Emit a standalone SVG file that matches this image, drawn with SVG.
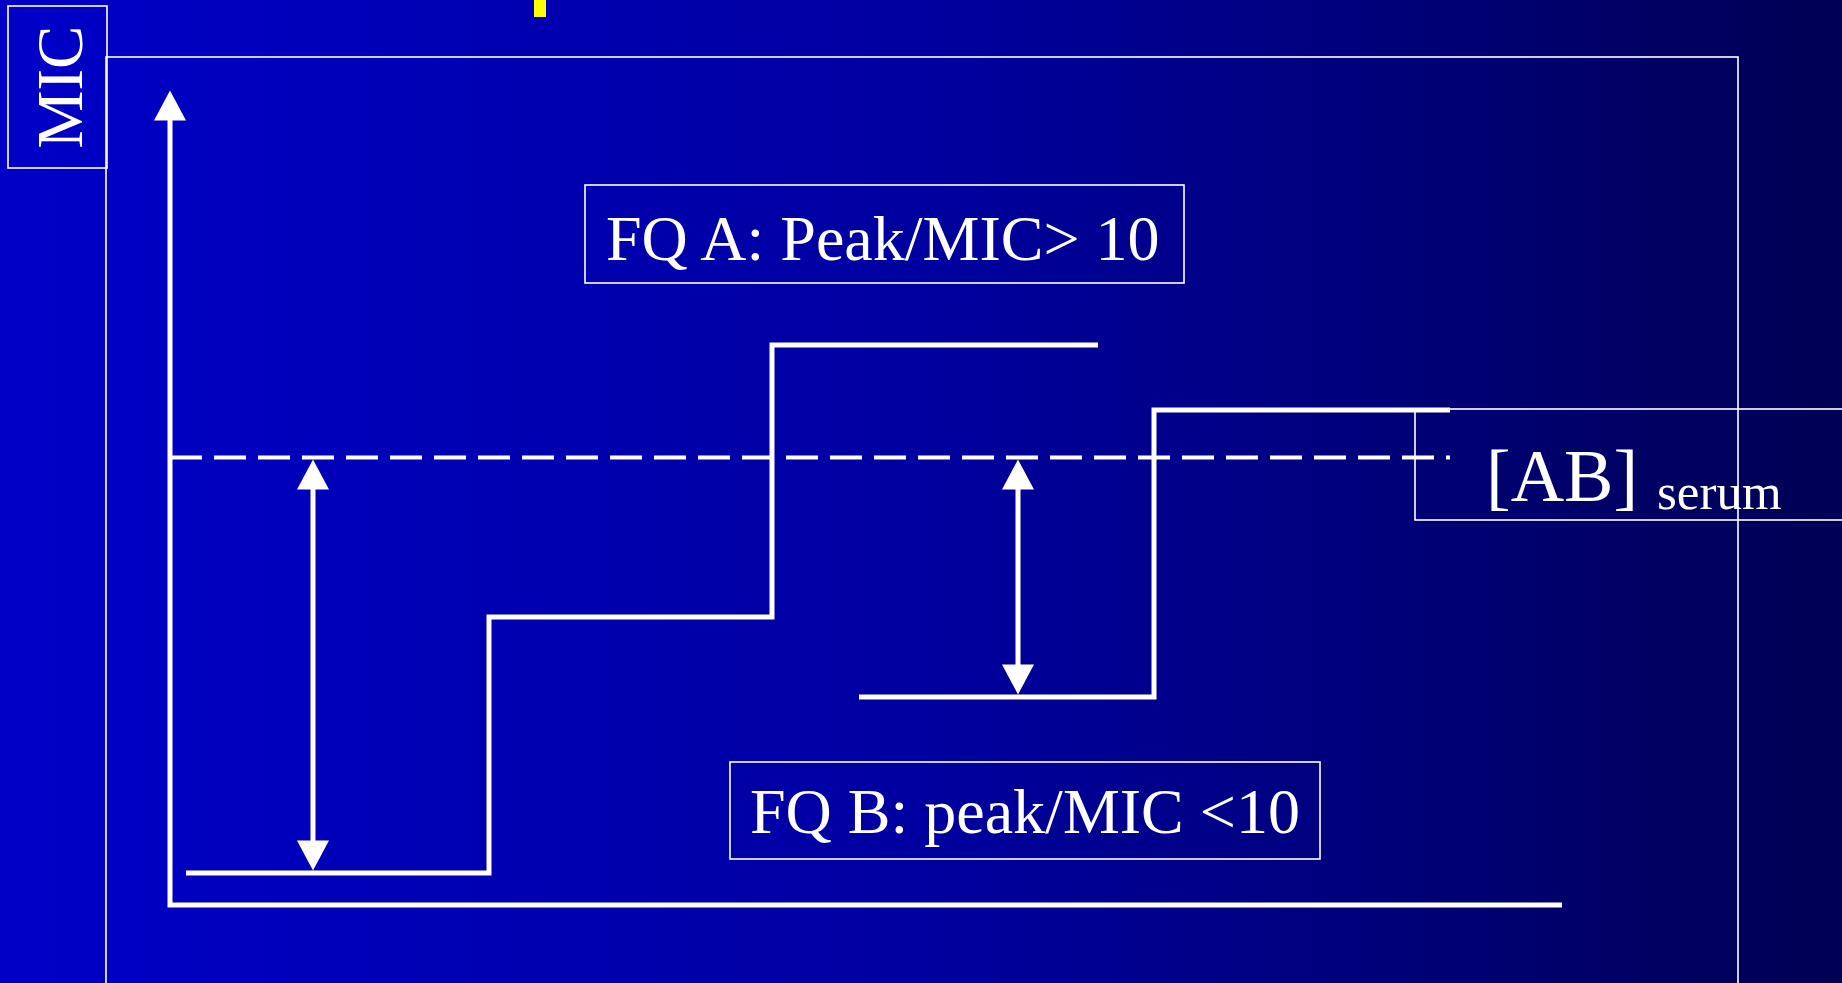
<svg xmlns="http://www.w3.org/2000/svg" width="1842" height="983" viewBox="0 0 1842 983">
  <defs>
    <linearGradient id="bg" x1="0" y1="0" x2="1" y2="0">
      <stop offset="0" stop-color="#0000C8"/>
      <stop offset="0.5" stop-color="#0000A0"/>
      <stop offset="1" stop-color="#000054"/>
    </linearGradient>
    <marker id="head" markerUnits="userSpaceOnUse" markerWidth="32" markerHeight="32" viewBox="0 0 30 32" refX="0.5" refY="16" orient="auto-start-reverse">
      <path d="M0,0 L30,16 L0,32 z" fill="#FFFFFF"/>
    </marker>
    <style>
      .thin { fill: none; stroke: #FFFFFF; stroke-width: 1.6; }
      .thick { fill: none; stroke: #FFFFFF; stroke-width: 5; stroke-linejoin: miter; }
      .dash { fill: none; stroke: #FFFFFF; stroke-width: 3.8; stroke-dasharray: 32 12; }
      .lbl { font-family: "Liberation Serif", "Times New Roman", serif; fill: #FFFFFF; }
    </style>
  </defs>

  <rect id="background" x="0" y="0" width="1842" height="983" fill="url(#bg)"/>

  <rect id="title-fragment" x="534" y="0" width="12" height="17" fill="#FFFF00"/>

  <g id="frame">
    <rect class="thin" x="106" y="57" width="1632" height="940"/>
  </g>

  <g id="mic-label">
    <rect class="thin" x="8" y="6" width="99" height="162" fill="#0000C8"/>
    <text class="lbl" font-size="65" text-anchor="middle" transform="translate(82,87) rotate(-90)">MIC</text>
  </g>

  <g id="axes">
    <path class="thick" d="M170,120 V905 H1562" marker-start="url(#head)"/>
  </g>

  <g id="curve-fq-b">
    <path class="thick" d="M186,873 H489 V617 H772 V345 H1098"/>
  </g>

  <g id="curve-fq-a">
    <path class="thick" d="M859,697 H1154 V410 H1450"/>
  </g>

  <g id="connectors">
    <line class="dash" x1="170" y1="457.5" x2="1450" y2="457.5"/>
    <line class="thick" x1="313" y1="489" x2="313" y2="841" marker-start="url(#head)" marker-end="url(#head)"/>
    <line class="thick" x1="1018" y1="489" x2="1018" y2="665" marker-start="url(#head)" marker-end="url(#head)"/>
  </g>

  <g id="label-fq-a">
    <rect class="thin" x="585" y="185" width="599" height="98"/>
    <text class="lbl" x="606" y="260" font-size="64">FQ A: Peak/MIC&gt; 10</text>
  </g>

  <g id="label-fq-b">
    <rect class="thin" x="730" y="762" width="590" height="97"/>
    <text class="lbl" x="750" y="833" font-size="64">FQ B: peak/MIC &lt;10</text>
  </g>

  <g id="label-ab-serum">
    <rect class="thin" x="1415" y="409" width="440" height="111"/>
    <text class="lbl" x="1486" y="501" font-size="74">[AB]</text>
    <text class="lbl" x="1657" y="509" font-size="51">serum</text>
  </g>
</svg>
